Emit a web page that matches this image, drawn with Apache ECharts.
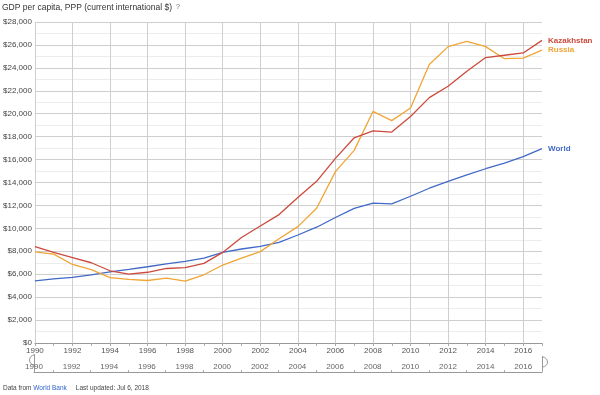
<!DOCTYPE html>
<html><head><meta charset="utf-8">
<script src="https://cdn.jsdelivr.net/npm/echarts@6/dist/echarts.min.js"></script>
<style>html,body{margin:0;padding:0;background:#fff}#c{width:600px;height:395px}</style>
</head><body><div id="c"></div>
<script>
const years = ['1990','1991','1992','1993','1994','1995','1996','1997','1998','1999','2000','2001','2002','2003','2004','2005','2006','2007','2008','2009','2010','2011','2012','2013','2014','2015','2016','2017'];
const kazakhstan = [8400,7900,7450,7000,6300,6000,6170,6500,6570,6950,7900,9200,10200,11200,12700,14100,16100,17900,18500,18400,19750,21400,22400,23700,24900,25100,25300,26400];
const russia = [7950,7750,6850,6400,5700,5550,5450,5650,5400,5950,6800,7400,7970,9100,10150,11750,14950,16800,20200,19400,20500,24300,25850,26300,25850,24800,24850,25550];
const world = [5420,5600,5720,5950,6200,6420,6650,6900,7120,7400,7900,8200,8420,8780,9420,10100,10950,11750,12200,12130,12800,13500,14100,14660,15200,15700,16250,16950];
const yTicksMax = 28000;

const FONT = 'Liberation Sans, Arial, sans-serif';
const chart = echarts.init(document.getElementById('c'), null, {renderer: 'canvas'});
function mk(name, data, color) {
  return {
    name, type: 'line', data, xAxisIndex: 0, yAxisIndex: 0,
    symbol: 'none', smooth: false,
    lineStyle: {width: 1.3, color},
    itemStyle: {color},
    endLabel: {show: true, formatter: name, color, fontFamily: FONT, fontSize: 8, fontWeight: 'bold', distance: 6},
    emphasis: {disabled: true}, animation: false
  };
}
const option = {
  animation: false,
  title: [{
    left: 2, top: 3, padding: 0,
    text: '{a|GDP per capita, PPP (current international $)}{q|  ?}',
    textStyle: {fontWeight: 'normal', rich: {a: {fontFamily: FONT, fontSize: 8.5, fontWeight: 'normal', color: '#333'}, q: {fontFamily: FONT, fontSize: 7, fontWeight: 'normal', color: '#666'}}}
  }, {
    left: 3, top: 385, padding: 0,
    text: '{g|Data from }{b|World Bank}{g|     Last updated: Jul 6, 2018}',
    textStyle: {fontWeight: 'normal', rich: {g: {fontFamily: FONT, fontSize: 6.5, fontWeight: 'normal', color: '#444'}, b: {fontFamily: FONT, fontSize: 6.5, fontWeight: 'normal', color: '#3366cc'}}}
  }],
  grid: [
    {left: 34, right: 58, top: 22, bottom: 52, containLabel: false},
    {left: 34, right: 58, top: 355, height: 17}
  ],
  xAxis: [{
    gridIndex: 0, type: 'category', data: years, boundaryGap: false,
    axisLine: {lineStyle: {color: '#999', width: 1}},
    axisTick: {show: true, interval: 0, length: 3, lineStyle: {color: '#aaa'}},
    axisLabel: {interval: 1, fontFamily: FONT, fontSize: 8, color: '#555', margin: 4},
    splitLine: {show: true, interval: 1, lineStyle: {color: '#cfcfcf', width: 1}}
  }, {
    gridIndex: 1, type: 'category', data: years, boundaryGap: false,
    axisLine: {lineStyle: {color: '#999', width: 1}},
    axisTick: {show: true, inside: true, interval: (i) => i % 2 === 1, length: 2, lineStyle: {color: '#aaa'}},
    axisLabel: {interval: 1, inside: true, margin: 1, fontFamily: FONT, fontSize: 8, color: '#666'},
    splitLine: {show: false}
  }],
  yAxis: [{
    gridIndex: 0, type: 'value', min: 0, max: yTicksMax, interval: 2000,
    axisLine: {show: false}, axisTick: {show: false},
    axisLabel: {fontFamily: FONT, fontSize: 8, color: '#444', margin: 3,
      formatter: v => '$' + v.toLocaleString('en-US')},
    splitLine: {lineStyle: {color: '#cfcfcf', width: 1}},
    minorTick: {show: false, splitNumber: 2},
    minorSplitLine: {show: true, lineStyle: {color: '#ececec', width: 1}}
  }, {
    gridIndex: 1, type: 'value', min: 0, max: 1, show: false
  }],
  series: [
    mk('World', world, '#4169c6'),
    mk('Russia', russia, '#f0a535'),
    mk('Kazakhstan', kazakhstan, '#cc4a3c')
  ]
};
chart.setOption(option);

const xl = chart.convertToPixel({xAxisIndex: 1}, years[0]);
const xr = chart.convertToPixel({xAxisIndex: 1}, years[years.length - 1]);
chart.setOption({
  graphic: [
    {type: 'line', shape: {x1: xl + 0.5, y1: 354, x2: xl + 0.5, y2: 372}, style: {stroke: '#999', lineWidth: 1}},
    {type: 'arc', shape: {cx: xl + 0.5, cy: 360, r: 5, startAngle: Math.PI / 2, endAngle: Math.PI * 1.5}, style: {stroke: '#999', lineWidth: 1, fill: null}},
    {type: 'line', shape: {x1: xr + 0.5, y1: 356, x2: xr + 0.5, y2: 372}, style: {stroke: '#999', lineWidth: 1}},
    {type: 'arc', shape: {cx: xr + 0.5, cy: 362, r: 5, startAngle: -Math.PI / 2, endAngle: Math.PI / 2}, style: {stroke: '#999', lineWidth: 1, fill: null}}
  ]
});
</script></body></html>
